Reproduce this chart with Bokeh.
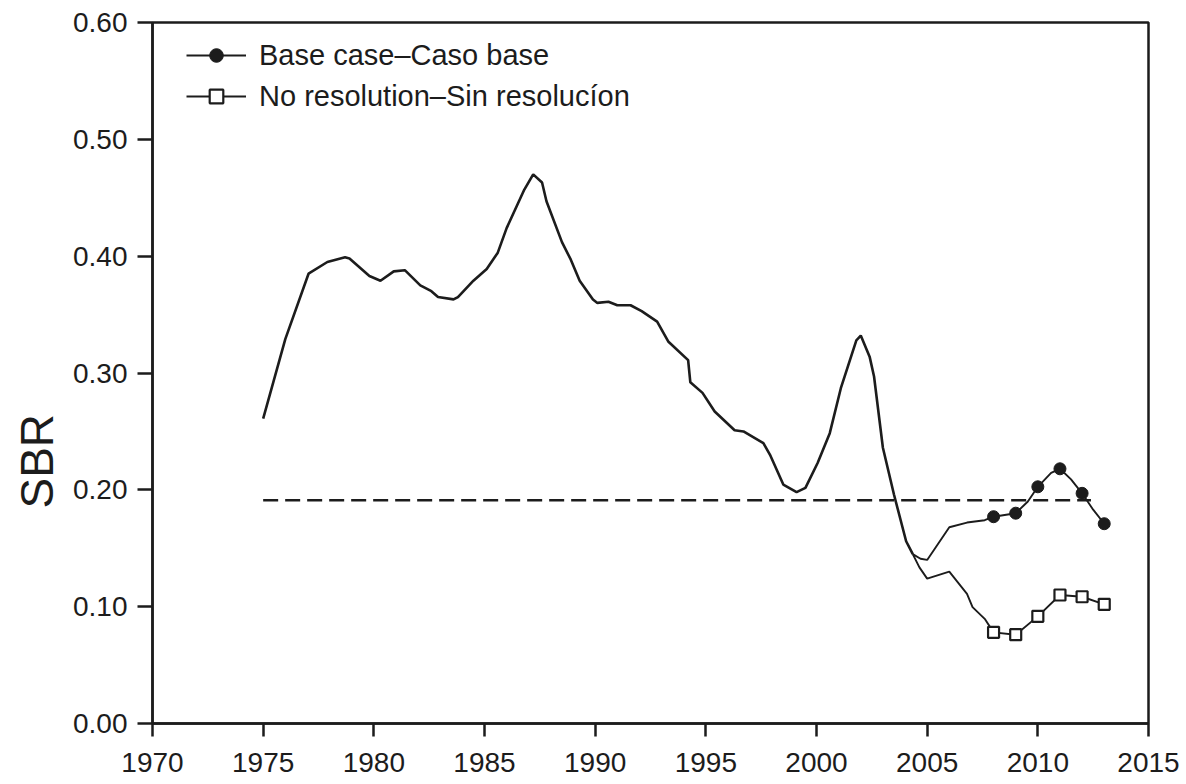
from bokeh.plotting import figure
from bokeh.models import FixedTicker, PrintfTickFormatter, Legend, LegendItem, Title
from bokeh.embed import file_html
from bokeh.resources import INLINE

# ---- data ----
hist_year = [1975.0, 1976.0, 1977.05, 1977.9, 1978.7, 1978.9, 1979.8, 1980.3, 1980.9, 1981.4,
             1982.1, 1982.6, 1982.9, 1983.6, 1983.8, 1984.5, 1985.1, 1985.6, 1986.0, 1986.8,
             1987.2, 1987.6, 1987.8, 1988.5, 1988.9, 1989.3, 1989.9, 1990.1, 1990.6, 1991.0,
             1991.6, 1992.1, 1992.8, 1993.3, 1994.2, 1994.3, 1994.85, 1995.4, 1996.3, 1996.7,
             1997.6, 1997.9, 1998.5, 1999.1, 1999.5, 2000.05, 2000.6, 2001.1, 2001.8, 2002.0,
             2002.4, 2002.6, 2003.0, 2003.5, 2004.05, 2004.35]
hist_sbr = [0.261, 0.329, 0.385, 0.395, 0.399, 0.398, 0.383, 0.379, 0.387, 0.388,
            0.375, 0.370, 0.365, 0.363, 0.365, 0.379, 0.389, 0.403, 0.424, 0.457,
            0.470, 0.463, 0.447, 0.412, 0.397, 0.379, 0.363, 0.360, 0.361, 0.358,
            0.358, 0.353, 0.344, 0.327, 0.311, 0.292, 0.283, 0.267, 0.251, 0.250,
            0.240, 0.230, 0.2045, 0.198, 0.2017, 0.223, 0.2485, 0.287, 0.328, 0.332,
            0.314, 0.297, 0.236, 0.196, 0.156, 0.145]

base_year = [2004.35, 2004.7, 2005.0, 2006.0, 2006.8, 2007.6, 2008.0, 2009.0, 2009.55,
             2010.0, 2010.6, 2011.0, 2011.5, 2012.0, 2012.5, 2013.0]
base_sbr = [0.145, 0.141, 0.140, 0.168, 0.172, 0.174, 0.177, 0.180, 0.190,
            0.2026, 0.2145, 0.218, 0.209, 0.197, 0.183, 0.171]

nores_year = [2004.35, 2004.65, 2005.0, 2006.0, 2006.8, 2007.05, 2007.6, 2008.0, 2009.0,
              2010.0, 2011.0, 2012.0, 2013.0]
nores_sbr = [0.145, 0.1336, 0.124, 0.130, 0.111, 0.0996, 0.0896, 0.078, 0.076,
             0.0917, 0.110, 0.1085, 0.102]

mark_year = [2008, 2009, 2010, 2011, 2012, 2013]
base_mark = [0.177, 0.180, 0.2026, 0.218, 0.197, 0.171]
nores_mark = [0.078, 0.076, 0.0917, 0.110, 0.1085, 0.102]

ref_year = [1975, 2012.4]
ref_sbr = [0.191, 0.191]

x_ticks = [1970, 1975, 1980, 1985, 1990, 1995, 2000, 2005, 2010, 2015]
y_ticks = [0.0, 0.1, 0.2, 0.3, 0.4, 0.5, 0.6]

labels = ["Base case\u2013Caso base", "No resolution\u2013Sin resoluc\u00edon"]
y_title = "SBR"

INK = "#1c1c1c"
FONT = "Liberation Sans"

p = figure(width=1184, height=784, x_range=(1970, 2015), y_range=(0, 0.6),
           output_backend="svg", toolbar_location=None,
           min_border_left=152, min_border_right=36, min_border_top=22, min_border_bottom=61)

p.xgrid.visible = False
p.ygrid.visible = False
p.outline_line_color = INK
p.outline_line_width = 2.5
p.background_fill_color = "white"

for ax in (p.xaxis[0], p.yaxis[0]):
    ax.axis_line_color = INK
    ax.axis_line_width = 2.5
    ax.major_tick_line_color = INK
    ax.major_tick_line_width = 2.5
    ax.major_tick_in = 0
    ax.minor_tick_line_color = None
    ax.major_label_text_font = FONT
    ax.major_label_text_font_size = "28px"
    ax.major_label_text_color = INK

p.xaxis.ticker = FixedTicker(ticks=x_ticks)
p.xaxis.major_tick_out = 13
p.xaxis.major_label_standoff = 16

p.yaxis.ticker = FixedTicker(ticks=y_ticks)
p.yaxis.formatter = PrintfTickFormatter(format="%.2f")
p.yaxis.major_tick_out = 15
p.yaxis.major_label_standoff = 10

# y-axis title, placed lower than centre as in the reference
ytitle = Title(text=y_title, align="left", offset=215, standoff=16,
               text_font=FONT, text_font_size="46px", text_font_style="normal",
               text_color=INK)
p.add_layout(ytitle, "left")

# reference dashed line
p.line(ref_year, ref_sbr, line_color=INK, line_width=2.5, line_dash="15 7")

# historical trajectory
p.line(hist_year, hist_sbr, line_color=INK, line_width=2.6)

# projections
bl = p.line(base_year, base_sbr, line_color=INK, line_width=1.9)
bm = p.scatter(mark_year, base_mark, marker="circle", size=12, fill_color=INK, line_color=INK)
nl = p.line(nores_year, nores_sbr, line_color=INK, line_width=1.9)
nm = p.scatter(mark_year, nores_mark, marker="square", size=11, fill_color="white",
               line_color=INK, line_width=2.2)

legend = Legend(items=[LegendItem(label=labels[0], renderers=[bl, bm]),
                       LegendItem(label=labels[1], renderers=[nl, nm])],
                location=(34, 610))
legend.margin = 0
legend.padding = 0
legend.border_line_color = None
legend.background_fill_alpha = 0
legend.glyph_width = 60
legend.glyph_height = 34
legend.label_height = 34
legend.spacing = 7
legend.label_standoff = 13
legend.label_text_font = FONT
legend.label_text_font_size = "29px"
legend.label_text_color = INK
p.add_layout(legend, "center")

open("out.html", "w").write(file_html(p, INLINE))
